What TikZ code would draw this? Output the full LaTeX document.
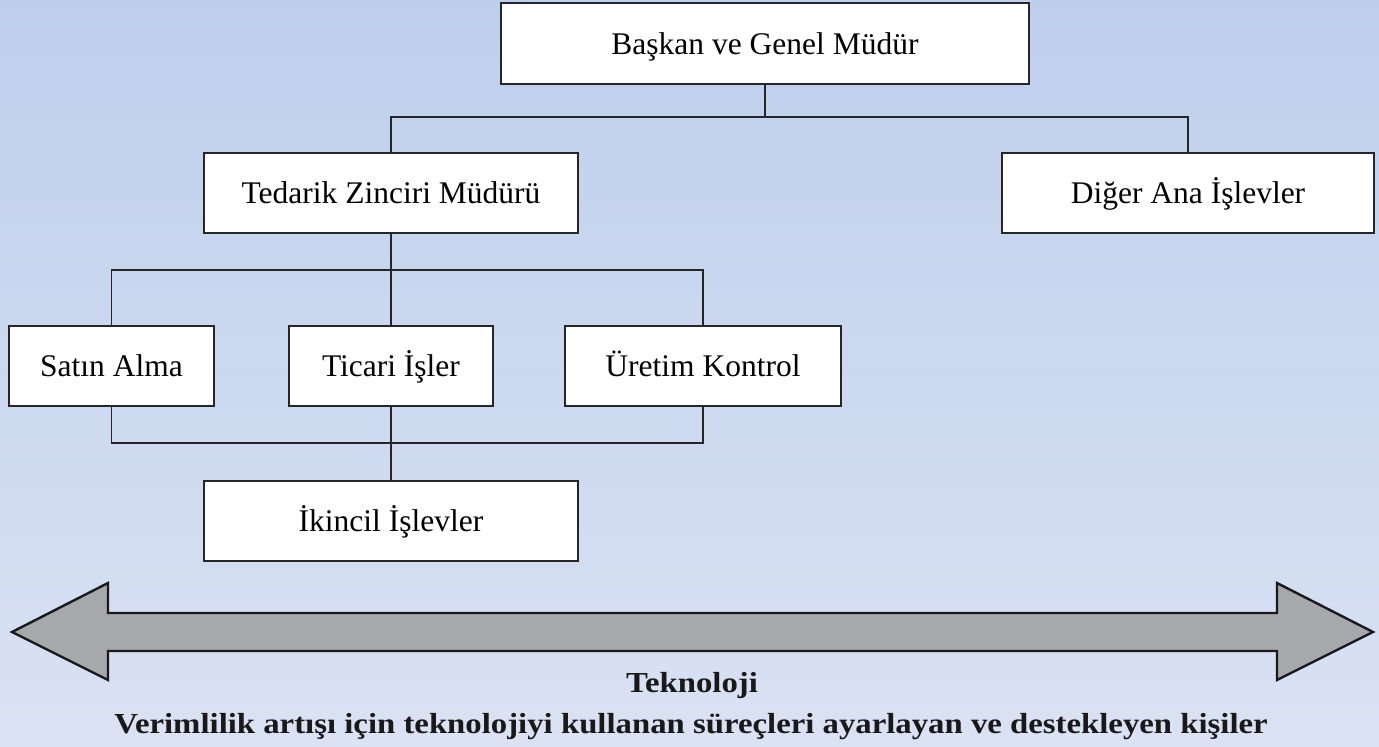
\documentclass[tikz,border=0pt]{standalone}
\usepackage{fontspec}
\setmainfont{Liberation Serif}
\usetikzlibrary{calc}
\definecolor{bgtop}{RGB}{190,207,236}
\definecolor{bgbot}{RGB}{218,226,243}
\definecolor{bararrow}{RGB}{167,168,171}
\tikzset{
  orgbox/.style={draw=black!85, fill=white, line width=1.6pt, rectangle,
    inner sep=0pt, minimum height=80pt, text height=24pt, text depth=3pt,
    font=\fontsize{31.5}{38}\selectfont},
  link/.style={draw=black!85, line width=1.6pt},
  caption/.style={text=black!90, font=\bfseries\fontsize{29}{34}\selectfont, xscale=1.13},
}
\begin{document}
\begin{tikzpicture}[x=1pt,y=-1pt]
  \useasboundingbox (0,0) rectangle (1379,747);
  \shade[top color=bgtop, bottom color=bgbot] (0,0) rectangle (1379,747);

  % organisation chart
  \node[orgbox, minimum width=528pt, minimum height=81pt] (bas) at (765,43.5) {Başkan ve Genel Müdür};
  \node[orgbox, minimum width=374pt] (ted) at (391,193) {Tedarik Zinciri Müdürü};
  \node[orgbox, minimum width=372pt] (dig) at (1188,193) {Diğer Ana İşlevler};
  \node[orgbox, minimum width=205pt] (sat) at (111.5,366) {Satın Alma};
  \node[orgbox, minimum width=204pt] (tic) at (391,366) {Ticari İşler};
  \node[orgbox, minimum width=276pt] (ure) at (703,366) {Üretim Kontrol};
  \node[orgbox, minimum width=374pt] (ikn) at (391,521) {İkincil İşlevler};

  \coordinate (j1) at (765,117);
  \coordinate (j2) at (391,270);
  \coordinate (j3) at (391,443);

  \draw[link] (bas.south) -- (j1);
  \draw[link] (ted.north) |- (j1) -| (dig.north);
  \draw[link] (ted.south) -- (j2);
  \draw[link] (sat.north) |- (j2) -| (ure.north);
  \draw[link] (j2) -- (tic.north);
  \draw[link] (sat.south) |- (j3) -| (ure.south);
  \draw[link] (tic.south) -- (ikn.north);

  % technology double arrow
  \draw[fill=bararrow, draw=black!90, line width=2.4pt, line join=miter]
    (12,632) -- (108,583) -- (108,613) -- (1277,613) -- (1277,583)
    -- (1373,632) -- (1277,680) -- (1277,651) -- (108,651) -- (108,680) -- cycle;

  \node[caption] (tek) at (692,686) {Teknoloji};
  \node[caption] (ver) at (691,727)
    {Verimlilik artışı için teknolojiyi kullanan süreçleri ayarlayan ve destekleyen kişiler};
\end{tikzpicture}
\end{document}
